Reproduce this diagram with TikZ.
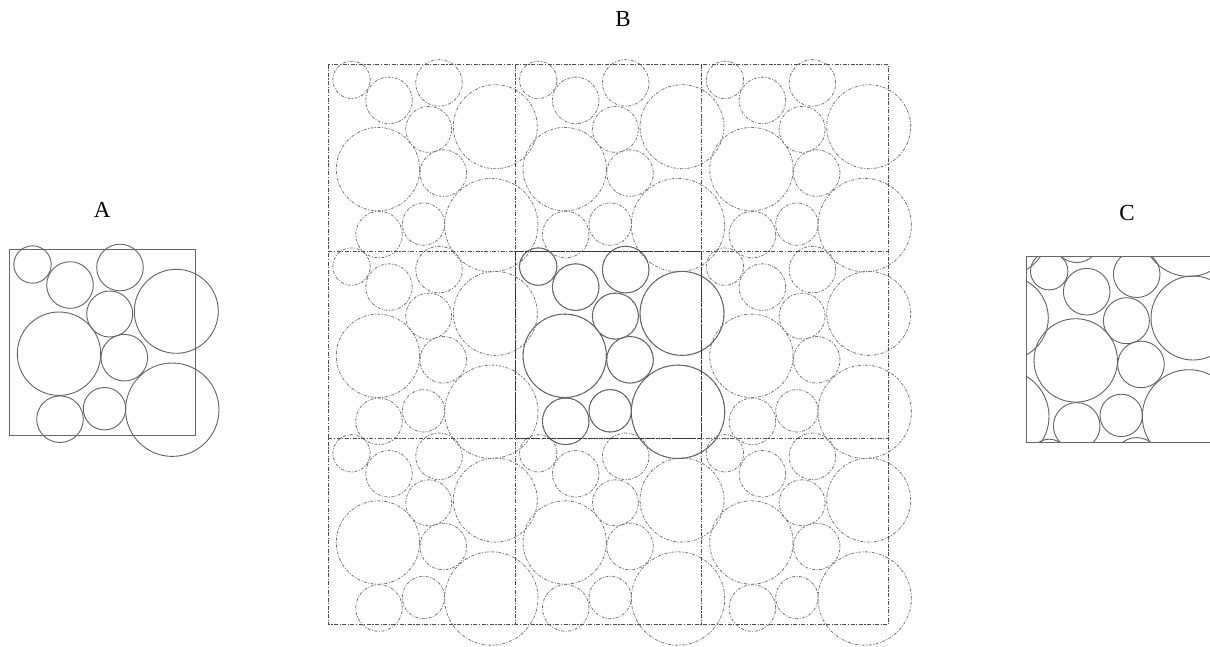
\documentclass[tikz,border=0pt]{standalone}
\usepackage{fontspec}
\setmainfont{Liberation Serif}
\begin{document}
\begin{tikzpicture}[x=1pt,y=-1pt,
  circ/.style={draw=black!62, line width=0.9pt},
  ghost/.style={draw=black!55, line width=0.8pt, dash pattern=on 3pt off 1.5pt on 1pt off 1.5pt},
  gridline/.style={draw=black!70, line width=0.8pt, dash pattern=on 4pt off 1.5pt on 1.2pt off 1.5pt},
  centerbox/.style={draw=black!80, line width=0.9pt, dash pattern=on 4pt off 1.2pt},
  cellbox/.style={draw=black!60, line width=0.9pt},
  lab/.style={font=\fontsize{23}{23}\selectfont, inner sep=0pt}]
\useasboundingbox (0,0) rectangle (1210,646);
\def\packing{23.2/15.2/18.7, 60.7/35.7/23.3, 110.7/18.2/23.3, 100.4/64.7/23, 167/62/42, 49.7/104.4/41.7, 115/108.4/23.3, 163/160.4/46.7, 50.7/169.9/23.3, 95.2/159.4/21.2}
\newcommand\drawpacking[3]{%
  \foreach \cx/\cy/\rr in \packing {\draw[#1] (#2+\cx, #3+\cy) circle[radius=\rr pt];}}
% labels
\node[lab] (labA) at (102.3,210) {A};
\node[lab] (labB) at (623,19) {B};
\node[lab] (labC) at (1127,213) {C};
% Panel A
\draw[cellbox] (9.3,249.3) rectangle ++(186,186);
\drawpacking{circ}{9.3}{249.3}
% Panel B
\foreach \i in {0,1,2} {\foreach \j in {0,1,2} {
  \drawpacking{ghost}{328.3+\i*186.7}{64.7+\j*186.7}
}}
\draw[gridline] (328.3,64.7) rectangle (888.4,624.8);
\foreach \k in {1,2} {
  \draw[gridline] (328.3+\k*186.7,64.7) -- (328.3+\k*186.7,624.8);
  \draw[gridline] (328.3,64.7+\k*186.7) -- (888.4,64.7+\k*186.7);
}
\drawpacking{circ}{515}{251.4}
\draw[centerbox] (515,251.4) rectangle ++(186.7,186.7);
% Panel C
\begin{scope}
\clip (1026,256) rectangle ++(186.7,186.7);
\foreach \dx in {-1,0,1} {\foreach \dy in {-1,0,1} {
  \drawpacking{circ}{1026+\dx*186.7}{256+\dy*186.7}
}}
\end{scope}
\draw[cellbox] (1026,256) rectangle ++(186.7,186.7);
\end{tikzpicture}
\end{document}
